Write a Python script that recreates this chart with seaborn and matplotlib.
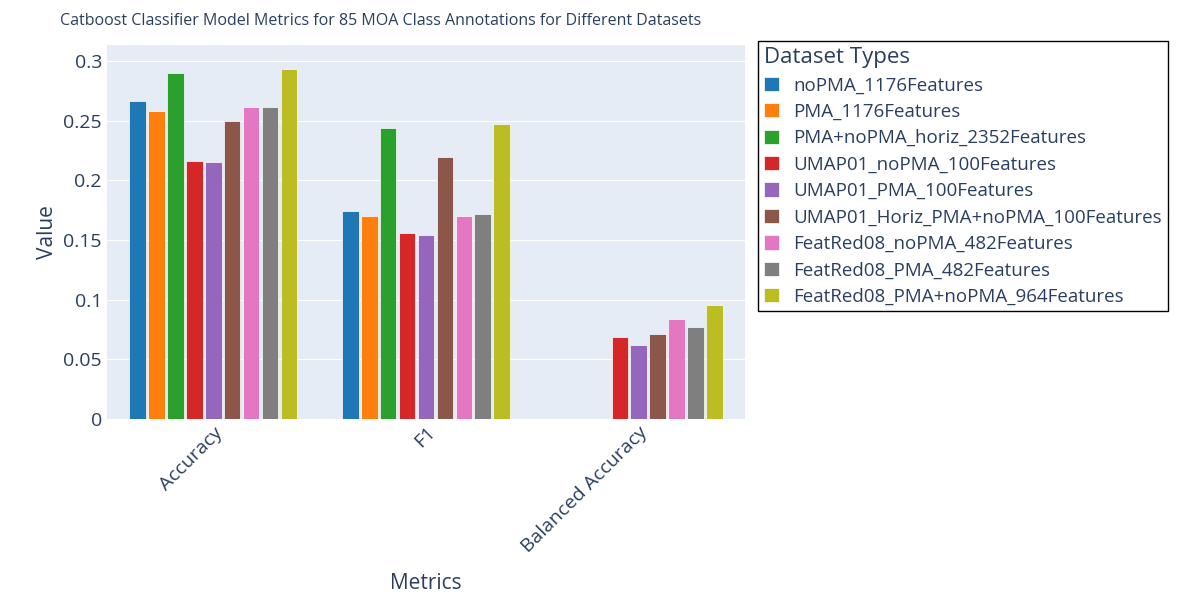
import numpy as np
import pandas as pd
import matplotlib.pyplot as plt
import seaborn as sns

metrics = ["Accuracy", "F1", "Balanced Accuracy"]
datasets = [
    "noPMA_1176Features",
    "PMA_1176Features",
    "PMA+noPMA_horiz_2352Features",
    "UMAP01_noPMA_100Features",
    "UMAP01_PMA_100Features",
    "UMAP01_Horiz_PMA+noPMA_100Features",
    "FeatRed08_noPMA_482Features",
    "FeatRed08_PMA_482Features",
    "FeatRed08_PMA+noPMA_964Features",
]
accuracy = [0.2666, 0.2585, 0.2900, 0.2160, 0.2154, 0.2498, 0.2615, 0.2618, 0.2934]
f1 = [0.1743, 0.1700, 0.2440, 0.1560, 0.1540, 0.2196, 0.1700, 0.1718, 0.2470]
balanced = [0.0, 0.0, 0.0, 0.0687, 0.0620, 0.0712, 0.0838, 0.0771, 0.0955]
colors = ["#1f77b4", "#ff7f0e", "#2ca02c", "#d62728", "#9467bd",
          "#8c564b", "#e377c2", "#7f7f7f", "#bcbd22"]

rows = []
for d, a, f, b in zip(datasets, accuracy, f1, balanced):
    rows += [(d, "Accuracy", a), (d, "F1", f), (d, "Balanced Accuracy", b)]
df = pd.DataFrame(rows, columns=["Dataset Types", "Metrics", "Value"])

sns.set_style("darkgrid", {"axes.facecolor": "#e5ecf6", "grid.color": "white"})
plt.rcParams["font.family"] = ["Open Sans", "DejaVu Sans"]
txt = "#2a3f5f"

fig = plt.figure(figsize=(12, 6), dpi=100)
ax = fig.add_axes([0.089, 0.302, 0.532, 0.623])
sns.barplot(data=df, x="Metrics", y="Value", hue="Dataset Types", order=metrics,
            hue_order=datasets, palette=colors, saturation=1, width=0.8, gap=0.12,
            edgecolor="white", linewidth=0.5, ax=ax)
ax.set_xlim(-0.5, 2.5)
ax.set_ylim(0, 0.3135)
ax.set_yticks([0, 0.05, 0.1, 0.15, 0.2, 0.25, 0.3])
ax.set_yticklabels(["0", "0.05", "0.1", "0.15", "0.2", "0.25", "0.3"])
ax.grid(axis="x", visible=False)
ax.tick_params(axis="both", labelsize=14, colors=txt, length=0)
plt.setp(ax.get_xticklabels(), rotation=45, ha="right", rotation_mode="anchor")
ax.set_xlabel("Metrics", fontsize=15, color=txt, labelpad=12)
ax.set_ylabel("Value", fontsize=15, color=txt)
for s in ax.spines.values():
    s.set_visible(False)
fig.text(0.05, 0.965, "Catboost Classifier Model Metrics for 85 MOA Class Annotations for Different Datasets",
         fontsize=11.5, color=txt, va="center")
leg = ax.legend(title="Dataset Types", loc="upper left", bbox_to_anchor=(1.02, 1.01),
                fontsize=13.5, title_fontsize=16, frameon=True, fancybox=False,
                edgecolor="black", facecolor="white", framealpha=1,
                handlelength=0.8, handleheight=0.8,
                labelspacing=0.45, alignment="left", borderaxespad=0, borderpad=0.3)
leg.get_frame().set_linewidth(1)
for t in leg.get_texts():
    t.set_color(txt)
leg.get_title().set_color(txt)
fig.savefig("out.png", dpi=100)
